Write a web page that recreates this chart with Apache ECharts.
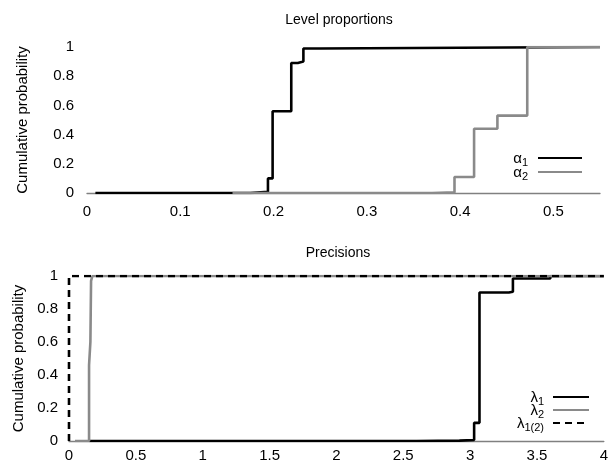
<!DOCTYPE html>
<html>
<head>
<meta charset="utf-8">
<script src="https://cdn.jsdelivr.net/npm/echarts@6/dist/echarts.min.js"></script>
<style>html,body{margin:0;padding:0;background:#fff}#c{width:611px;height:463px}</style>
</head>
<body>
<div id="c"></div>
<script>
// ---- data ----
const titles = ['Level proportions', 'Precisions'];
const yName = 'Cumulative probability';
const alpha1 = [[0.009,0],[0.175,0.008],[0.194,0.10],[0.199,0.56],[0.219,0.89],[0.226,0.90],[0.232,0.99],[0.25,1.0],[0.55,1.0]];
const alpha2 = [[0.156,0],[0.37,0.004],[0.394,0.11],[0.415,0.44],[0.44,0.53],[0.472,1.0],[0.55,1.0]];
const lambda1 = [[0.15,0],[2.6,0.002],[2.92,0.006],[3.03,0.11],[3.07,0.90],[3.29,0.905],[3.32,0.985],[3.6,1.0],[4,1.0]];
const lambda2 = [[0.045,0],[0.15,0.46],[0.16,0.6],[0.165,0.97],[0.175,1.0],[4,1.0]];
const lambda12 = [[0,0],[0,1],[4,1]];
const seriesNames = ['α1','α2','λ1','λ2','λ1(2)'];

const FONT = 'Liberation Sans, Arial, sans-serif';
const chart = echarts.init(document.getElementById('c'), null, {renderer:'canvas'});

function legendFmt(name){
  const base = name.charAt(0), sub = name.slice(1);
  return '{b|' + base + '}{s|' + sub + '}';
}
const legendRich = {
  b:{fontSize:15, fontFamily:FONT, color:'#000', lineHeight:14, verticalAlign:'top'},
  s:{fontSize:11, fontFamily:FONT, color:'#000', lineHeight:12, padding:[6,0,0,0], verticalAlign:'top'}
};
const yCommon = {
  type:'value', min:0, max:1, interval:0.2,
  axisLine:{show:false}, axisTick:{show:false}, splitLine:{show:false},
  axisLabel:{color:'#000', fontSize:15, fontFamily:FONT, margin:13},
  name:yName, nameLocation:'middle', nameRotate:90,
  nameTextStyle:{color:'#000', fontSize:15, fontFamily:FONT}
};
const xCommon = {
  type:'value',
  axisLine:{show:true, lineStyle:{color:'#808080', width:1.3}},
  axisTick:{show:false}, splitLine:{show:false},
  axisLabel:{color:'#000', fontSize:15, fontFamily:FONT, showMaxLabel:false}
};
function stepLine(name, data, xi, color, dashed){
  return {
    name:name, type:'line', step:'end', data:data, xAxisIndex:xi, yAxisIndex:xi,
    symbol:'none', animation:false,
    lineStyle:{color:color, width:2.6, type: dashed ? [7,5] : 'solid'},
    itemStyle:{color:color}
  };
}

chart.setOption({
  backgroundColor:'#fff',
  animation:false,
  textStyle:{fontFamily:FONT},
  graphic:[
    {type:'text', x:339, y:20, style:{text:titles[0], align:'center', verticalAlign:'middle', fontSize:14, fontFamily:FONT, fill:'#000'}},
    {type:'text', x:338, y:253, style:{text:titles[1], align:'center', verticalAlign:'middle', fontSize:14, fontFamily:FONT, fill:'#000'}}
  ],
  grid:[
    {left:87, width:513, top:47, height:146},
    {left:69, width:538, top:276, height:165}
  ],
  xAxis:[
    Object.assign({}, xCommon, {gridIndex:0, min:0, max:0.55, interval:0.1,
      axisLabel:Object.assign({}, xCommon.axisLabel, {margin:11})}),
    Object.assign({}, xCommon, {gridIndex:1, min:0, max:4, interval:0.5,
      axisLabel:Object.assign({}, xCommon.axisLabel, {margin:7, showMaxLabel:true})})
  ],
  yAxis:[
    Object.assign({}, yCommon, {gridIndex:0, nameGap:57}),
    Object.assign({}, yCommon, {gridIndex:1, nameGap:43, axisLabel:Object.assign({}, yCommon.axisLabel, {margin:11})})
  ],
  legend:[
    {data:[seriesNames[0], seriesNames[1]], orient:'vertical', right:28, top:151, align:'right', padding:0,
     itemWidth:44, itemHeight:12, itemGap:-3, formatter:legendFmt, itemStyle:{opacity:0},
     textStyle:{rich:legendRich, padding:[0,5,0,0]}, selectedMode:false},
    {data:[seriesNames[2], seriesNames[3], seriesNames[4]], orient:'vertical', right:21, top:390, align:'right', padding:0,
     itemWidth:36, itemHeight:12, itemGap:-4, formatter:legendFmt, itemStyle:{opacity:0},
     textStyle:{rich:legendRich, padding:[0,4,0,0]}, selectedMode:false}
  ],
  series:[
    stepLine(seriesNames[0], alpha1, 0, '#000000', false),
    stepLine(seriesNames[1], alpha2, 0, '#8a8a8a', false),
    stepLine(seriesNames[2], lambda1, 1, '#000000', false),
    stepLine(seriesNames[3], lambda2, 1, '#8a8a8a', false),
    stepLine(seriesNames[4], lambda12, 1, '#000000', true)
  ]
});
</script>
</body>
</html>
